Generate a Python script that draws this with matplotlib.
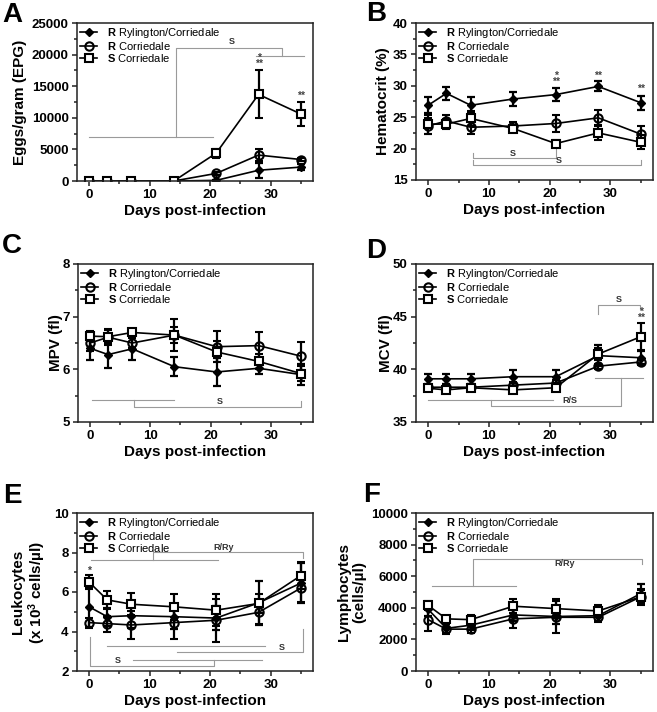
import matplotlib
matplotlib.use('Agg')
import matplotlib.pyplot as plt
from matplotlib.ticker import MultipleLocator

plt.rcParams['font.family'] = ['Liberation Sans', 'DejaVu Sans']
plt.rcParams['mathtext.fontset'] = 'custom'
plt.rcParams['mathtext.rm'] = 'Liberation Sans'
plt.rcParams['mathtext.bf'] = 'Liberation Sans:bold'
plt.rcParams['mathtext.it'] = 'Liberation Sans:italic'

# sampling days
days = [0, 3, 7, 14, 21, 28, 35]
group_labels = [r'$\mathbf{R}$ Rylington/Corriedale',
                r'$\mathbf{R}$ Corriedale',
                r'$\mathbf{S}$ Corriedale']

# A - eggs per gram
epg_ry = [0, 0, 0, 0, 100, 1700, 2200]
epg_ry_err = [0, 0, 0, 0, 100, 1200, 500]
epg_rc = [0, 0, 0, 0, 1200, 4100, 3400]
epg_rc_err = [0, 0, 0, 0, 250, 1000, 300]
epg_sc = [0, 0, 0, 0, 4400, 13700, 10600]
epg_sc_err = [0, 0, 0, 0, 700, 3800, 1900]

# B - hematocrit
hct_ry = [26.9, 28.8, 26.9, 27.9, 28.6, 29.9, 27.3]
hct_ry_err = [1.3, 1.0, 1.3, 1.1, 1.1, 0.8, 1.1]
hct_rc = [23.6, 24.4, 23.4, 23.6, 24.0, 24.9, 22.3]
hct_rc_err = [1.3, 1.0, 1.0, 0.6, 1.3, 1.2, 1.3]
hct_sc = [23.9, 23.9, 24.8, 23.2, 20.8, 22.5, 21.0]
hct_sc_err = [1.5, 0.8, 1.2, 0.6, 0.5, 1.1, 1.1]

# C - MPV
mpv_ry = [6.40, 6.28, 6.39, 6.05, 5.95, 6.02, 5.90]
mpv_ry_err = [0.22, 0.25, 0.22, 0.18, 0.27, 0.10, 0.20]
mpv_rc = [6.50, 6.61, 6.50, 6.65, 6.43, 6.45, 6.25]
mpv_rc_err = [0.15, 0.15, 0.10, 0.30, 0.30, 0.25, 0.26]
mpv_sc = [6.63, 6.62, 6.70, 6.65, 6.33, 6.15, 5.92]
mpv_sc_err = [0.10, 0.12, 0.07, 0.15, 0.20, 0.15, 0.15]

# D - MCV
mcv_ry = [39.1, 39.1, 39.1, 39.3, 39.3, 41.3, 41.1]
mcv_ry_err = [0.45, 0.5, 0.45, 0.6, 0.6, 1.0, 0.6]
mcv_rc = [38.3, 38.3, 38.3, 38.5, 38.7, 40.3, 40.7]
mcv_rc_err = [0.25, 0.3, 0.3, 0.3, 0.3, 0.25, 0.25]
mcv_sc = [38.2, 38.05, 38.25, 38.05, 38.25, 41.45, 43.1]
mcv_sc_err = [0.25, 0.3, 0.3, 0.3, 0.3, 0.6, 1.3]

# E - leukocytes
leu_ry = [5.25, 4.75, 4.8, 4.75, 4.68, 5.45, 6.45]
leu_ry_err = [1.0, 0.45, 0.6, 0.6, 0.6, 1.1, 1.0]
leu_rc = [4.45, 4.4, 4.33, 4.45, 4.57, 4.97, 6.2]
leu_rc_err = [0.25, 0.4, 0.7, 0.85, 1.1, 0.6, 0.7]
leu_sc = [6.5, 5.6, 5.38, 5.25, 5.08, 5.42, 6.83]
leu_sc_err = [0.35, 0.45, 0.55, 0.65, 0.8, 0.5, 0.7]

# F - lymphocytes
lym_ry = [3900, 2700, 2900, 3550, 3450, 3500, 4900]
lym_ry_err = [400, 300, 300, 400, 500, 350, 600]
lym_rc = [3250, 2650, 2650, 3300, 3400, 3400, 4700]
lym_rc_err = [700, 300, 250, 550, 1000, 300, 400]
lym_sc = [4150, 3300, 3250, 4100, 3950, 3800, 4700]
lym_sc_err = [300, 200, 300, 450, 600, 350, 500]

# significance brackets (polylines in data units) and their labels
brk_A = [[(0, 7000), (20.5, 7000)], [(14.4, 7000), (14.4, 21000), (31.8, 21000), (31.8, 19700)],
         [(27.5, 19700), (35.5, 19700)]]
brk_A_txt = [(23.5, 21300, 'S', 'bottom')]
brk_B = [[(7.3, 19.3), (7.3, 18.5), (21, 18.5), (21, 20.0)],
         [(7.3, 18.2), (7.3, 17.4), (35, 17.4), (35, 18.2)]]
brk_B_txt = [(14, 18.55, 'S', 'bottom'), (21.5, 17.45, 'S', 'bottom')]
brk_C = [[(0.3, 5.42), (14, 5.42)], [(7.3, 5.42), (7.3, 5.285), (35, 5.285), (35, 5.39)]]
brk_C_txt = [(21.5, 5.30, 'S', 'bottom')]
brk_D = [[(27.9, 45.3), (27.9, 46.1), (34.9, 46.1), (34.9, 45.7)],
         [(0, 37.1), (20.5, 37.1)], [(10.3, 37.1), (10.3, 36.55), (31.7, 36.55), (31.7, 39.15)],
         [(27.5, 39.15), (35.3, 39.15)]]
brk_D_txt = [(31.4, 46.2, 'S', 'bottom'), (23.3, 36.6, 'R/S', 'bottom')]
brk_E = [[(0.3, 7.64), (21.3, 7.64)], [(10.6, 7.64), (10.6, 8.03), (35.4, 8.03), (35.4, 7.74)],
         [(2.9, 3.27), (29.1, 3.27)], [(14.6, 2.95), (35.3, 2.95), (35.3, 4.11)],
         [(7.3, 2.56), (28.5, 2.56)], [(0.1, 3.71), (0.1, 2.25), (20.7, 2.25), (20.7, 2.56)]]
brk_E_txt = [(22.3, 8.0, 'R/Ry', 'bottom'), (31.9, 2.98, 'S', 'bottom'), (4.8, 2.28, 'S', 'bottom')]
brk_F = [[(0.7, 5400), (14.4, 5400)], [(7.3, 5400), (7.3, 7120), (35.2, 7120), (35.2, 6800)]]
brk_F_txt = [(22.5, 7080, 'R/Ry', 'top')]

# asterisks (x, y of the lowest row, text)
stars_A = [(28, 17700, '*\n**'), (35, 12700, '**')]
stars_B = [(21, 29.9, '*\n**'), (28, 30.8, '**'), (35, 28.7, '**')]
stars_D = [(35, 44.4, '*\n**')]
stars_E = [(0, 6.8, '*')]

W, H = 657, 712


def px_rect(left, top, right, bottom):
    return [left / W, 1 - bottom / H, (right - left) / W, (bottom - top) / H]


fig = plt.figure(figsize=(W / 100, H / 100), dpi=100)


def panel(rect, letter, letter_xy, ylabel, ylab_x, ylim, ymaj, ymin, series, brackets, btxt, stars):
    ax = fig.add_axes(rect)
    styles = [dict(marker='D', ms=4.3, mfc='black', mec='black'),
              dict(marker='o', ms=6, mfc='none', mec='black', mew=1.5),
              dict(marker='s', ms=6, mfc='white', mec='black', mew=1.5)]
    handles = []
    for (vals, errs), st in zip(series, styles):
        eb = ax.errorbar(days, vals, yerr=errs, color='black', lw=1.2, elinewidth=1.6,
                         capsize=3, capthick=1.6, **st)
        handles.append(eb[0])
    for poly in brackets:
        xs = [p[0] for p in poly]
        ys = [p[1] for p in poly]
        ax.plot(xs, ys, color='#9a9a9a', lw=0.8, zorder=1)
    for x, y, t, va in btxt:
        ax.text(x, y, t, ha='center', va=va, fontsize=6.5, fontweight='bold', color='#333333')
    for x, y, t in stars:
        ax.text(x, y, t, ha='center', va='bottom', fontsize=7.5, fontweight='bold',
                color='#444444', linespacing=0.5)
    ax.set_xlim(-2, 37)
    ax.set_ylim(*ylim)
    ax.xaxis.set_major_locator(MultipleLocator(10))
    ax.xaxis.set_minor_locator(MultipleLocator(5))
    ax.yaxis.set_major_locator(MultipleLocator(ymaj))
    ax.yaxis.set_minor_locator(MultipleLocator(ymin))
    ax.tick_params(which='both', direction='out', top=False, right=False,
                   width=1.1, color='#222222')
    ax.tick_params(which='major', length=3.5, labelsize=9.5, pad=2.5)
    ax.tick_params(which='minor', length=2.5)
    for lab in ax.get_xticklabels() + ax.get_yticklabels():
        lab.set_fontweight('bold')
    for sp in ax.spines.values():
        sp.set_linewidth(1.1)
        sp.set_color('#222222')
    ax.set_xlabel('Days post-infection', fontsize=11, fontweight='bold', labelpad=2)
    ax.set_ylabel(ylabel, fontsize=11, fontweight='bold', linespacing=1.1)
    ax.yaxis.set_label_coords(ylab_x, 0.5)
    ax.legend(handles, group_labels, loc='upper left', bbox_to_anchor=(0.01, 0.99),
              frameon=False, fontsize=8, handlelength=1.5, handletextpad=0.9,
              labelspacing=0.0, borderpad=0.1, borderaxespad=0)
    fig.text(letter_xy[0] / W, 1 - letter_xy[1] / H, letter, fontsize=20,
             fontweight='bold', va='baseline', ha='left')
    return ax


panel(px_rect(77, 23, 313, 181), 'A', (2, 22), 'Eggs/gram (EPG)', -0.21,
      (0, 25000), 5000, 2500,
      [(epg_ry, epg_ry_err), (epg_rc, epg_rc_err), (epg_sc, epg_sc_err)],
      brk_A, brk_A_txt, stars_A)
panel(px_rect(416, 23, 653, 180), 'B', (366, 21), 'Hematocrit (%)', -0.11,
      (15, 40), 5, 2.5,
      [(hct_ry, hct_ry_err), (hct_rc, hct_rc_err), (hct_sc, hct_sc_err)],
      brk_B, brk_B_txt, stars_B)
panel(px_rect(78, 264, 313, 422), 'C', (2, 253), 'MPV (fl)', -0.064,
      (5, 8), 1, 0.5,
      [(mpv_ry, mpv_ry_err), (mpv_rc, mpv_rc_err), (mpv_sc, mpv_sc_err)],
      brk_C, brk_C_txt, [])
panel(px_rect(416, 264, 653, 422), 'D', (366, 258), 'MCV (fl)', -0.097,
      (35, 50), 5, 2.5,
      [(mcv_ry, mcv_ry_err), (mcv_rc, mcv_rc_err), (mcv_sc, mcv_sc_err)],
      brk_D, brk_D_txt, stars_D)
panel(px_rect(77, 513, 313, 671), 'E', (3, 503), 'Leukocytes\n' + r'(x 10$^{\mathbf{3}}$ cells/µl)', -0.123,
      (2, 10), 2, 1,
      [(leu_ry, leu_ry_err), (leu_rc, leu_rc_err), (leu_sc, leu_sc_err)],
      brk_E, brk_E_txt, stars_E)
panel(px_rect(416, 513, 653, 671), 'F', (363, 502), 'Lymphocytes\n(cells/µl)', -0.211,
      (0, 10000), 2000, 1000,
      [(lym_ry, lym_ry_err), (lym_rc, lym_rc_err), (lym_sc, lym_sc_err)],
      brk_F, brk_F_txt, [])

fig.savefig('out.png', dpi=100)
